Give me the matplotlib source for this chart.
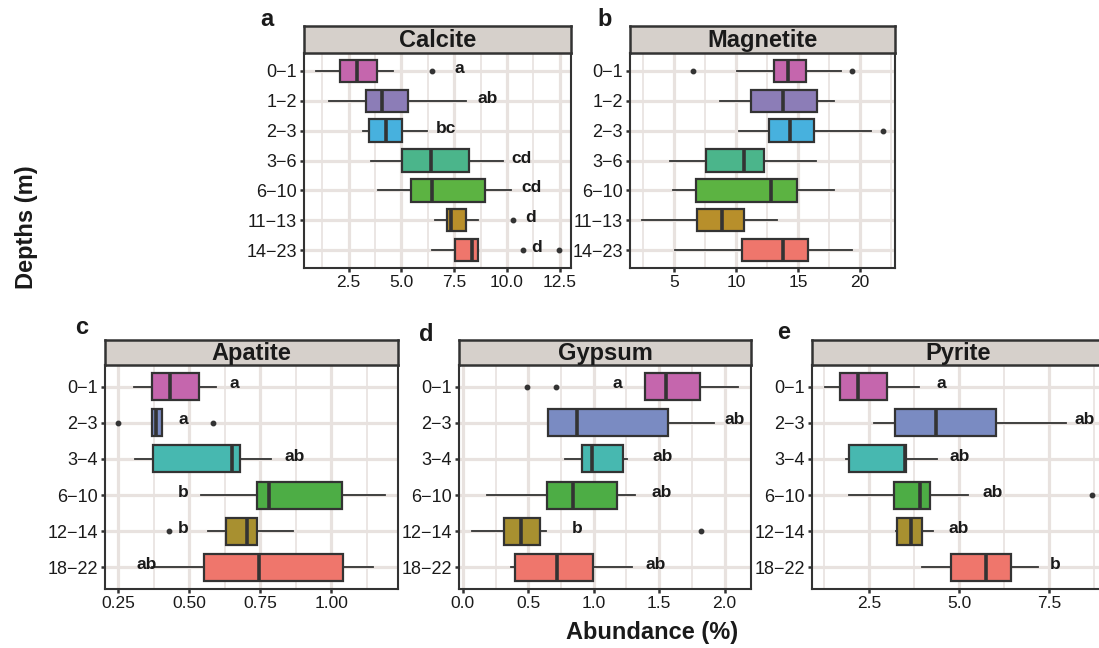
import matplotlib
matplotlib.use('Agg')
import matplotlib.pyplot as plt
from matplotlib.ticker import MultipleLocator, FormatStrFormatter

plt.rcParams['font.family'] = ['Liberation Sans', 'DejaVu Sans']

# ---- a: Calcite ----
calcite_depths = ['0−1', '1−2', '2−3', '3−6', '6−10', '11−13', '14−23']
calcite_lo = [0.96, 1.58, 3.17, 3.58, 3.90, 6.60, 6.44]
calcite_q1 = [2.10, 3.33, 3.45, 5.01, 5.44, 7.15, 7.55]
calcite_med = [2.90, 4.09, 4.25, 6.39, 6.47, 7.37, 8.33]
calcite_q3 = [3.85, 5.31, 5.01, 8.21, 8.98, 8.06, 8.61]
calcite_hi = [4.61, 8.06, 6.23, 9.80, 10.20, 8.61, 8.61]
calcite_out = [[6.44], [], [], [], [], [10.31], [10.75, 12.46]]
calcite_letters = ['a', 'ab', 'bc', 'cd', 'cd', 'd', 'd']
calcite_letter_x = [7.74, 9.07, 7.10, 10.67, 11.15, 11.12, 11.39]

# ---- b: Magnetite ----
magnetite_depths = calcite_depths
magnetite_lo = [10.06, 8.68, 10.19, 4.68, 4.87, 2.41, 5.05]
magnetite_q1 = [13.05, 11.18, 12.67, 7.53, 6.73, 6.87, 10.46]
magnetite_med = [14.19, 13.79, 14.32, 10.65, 12.78, 8.86, 13.79]
magnetite_q3 = [15.66, 16.51, 16.27, 12.27, 14.91, 10.67, 15.82]
magnetite_hi = [18.45, 17.87, 20.85, 16.40, 17.87, 13.31, 19.34]
magnetite_out = [[6.52, 19.38], [], [21.84], [], [], [], []]

# ---- c: Apatite ----
apatite_depths = ['0−1', '2−3', '3−4', '6−10', '12−14', '18−22']
apatite_lo = [0.305, 0.368, 0.309, 0.541, 0.567, 0.367]
apatite_q1 = [0.368, 0.368, 0.372, 0.737, 0.629, 0.553]
apatite_med = [0.432, 0.383, 0.650, 0.780, 0.702, 0.745]
apatite_q3 = [0.533, 0.403, 0.679, 1.039, 0.737, 1.041]
apatite_hi = [0.594, 0.403, 0.786, 1.188, 0.865, 1.146]
apatite_out = [[], [0.25, 0.582], [], [], [0.427], []]
apatite_letters = ['a', 'a', 'ab', 'b', 'b', 'ab']
apatite_letter_x = [0.658, 0.48, 0.87, 0.48, 0.48, 0.35]

# ---- d: Gypsum ----
gypsum_depths = apatite_depths
gypsum_lo = [1.39, 0.651, 0.777, 0.184, 0.072, 0.371]
gypsum_q1 = [1.39, 0.651, 0.912, 0.644, 0.312, 0.402]
gypsum_med = [1.55, 0.874, 0.989, 0.838, 0.447, 0.720]
gypsum_q3 = [1.81, 1.566, 1.226, 1.175, 0.588, 0.994]
gypsum_hi = [2.10, 1.921, 1.257, 1.316, 0.639, 1.295]
gypsum_out = [[0.49, 0.708], [], [], [], [1.822], []]
gypsum_letters = ['a', 'ab', 'ab', 'ab', 'b', 'ab']
gypsum_letter_x = [1.18, 2.08, 1.525, 1.52, 0.874, 1.474]

# ---- e: Pyrite ----
pyrite_depths = apatite_depths
pyrite_lo = [1.29, 2.64, 1.85, 1.96, 3.24, 3.96]
pyrite_q1 = [1.69, 3.22, 1.94, 3.20, 3.29, 4.78]
pyrite_med = [2.20, 4.36, 3.50, 3.91, 3.68, 5.75]
pyrite_q3 = [3.01, 6.03, 3.54, 4.19, 3.96, 6.45]
pyrite_hi = [3.88, 7.98, 4.39, 5.24, 4.27, 7.19]
pyrite_out = [[], [], [], [8.68], [], []]
pyrite_letters = ['a', 'ab', 'ab', 'ab', 'ab', 'b']
pyrite_letter_x = [4.50, 8.49, 5.01, 5.94, 4.98, 7.66]

top_colors = ['#C566AD', '#8C7DB7', '#47B1DE', '#4BB58B', '#5CB342', '#B88F2B', '#EF766C']
bottom_colors = ['#C566AD', '#7A8BC2', '#47B8B0', '#4DAD45', '#A89030', '#EF766C']

W, H = 1099, 648
dark = '#333333'
grid_col = '#E8E2DF'


def px_rect(x0, y0, x1, y1):
    # pixel box (top-left origin) -> figure fraction rect
    return [x0 / W, 1 - y1 / H, (x1 - x0) / W, (y1 - y0) / H]


def draw_panel(fig, box, strip, title, depths, lo, q1, med, q3, hi, outs, colors,
               major, fmt, letters=None, letter_x=None):
    ax = fig.add_axes(px_rect(*box))
    n = len(depths)
    pos = list(range(n, 0, -1))
    stats = []
    for i in range(n):
        stats.append(dict(whislo=lo[i], q1=q1[i], med=med[i], q3=q3[i],
                          whishi=hi[i], fliers=outs[i]))
    bp = ax.bxp(stats, positions=pos, widths=0.75, orientation='horizontal',
                patch_artist=True, showcaps=False,
                boxprops=dict(edgecolor=dark, linewidth=1.6),
                medianprops=dict(color=dark, linewidth=2.6, solid_capstyle='butt'),
                whiskerprops=dict(color=dark, linewidth=1.3),
                flierprops=dict(marker='o', markersize=3.2, markerfacecolor=dark,
                                markeredgecolor=dark))
    for patch, c in zip(bp['boxes'], colors):
        patch.set_facecolor(c)
    ax.margins(x=0.05)
    ax.set_ylim(0.4, n + 0.6)
    ax.set_yticks(pos)
    ax.set_yticklabels(depths)
    ax.xaxis.set_major_locator(MultipleLocator(major))
    ax.xaxis.set_minor_locator(MultipleLocator(major / 2))
    ax.xaxis.set_major_formatter(FormatStrFormatter(fmt))
    ax.set_axisbelow(True)
    ax.grid(True, which='major', color=grid_col, linewidth=2.3)
    ax.grid(True, which='minor', axis='x', color=grid_col, linewidth=1.2)
    ax.tick_params(axis='both', which='major', length=3, width=1.8, color=dark,
                   labelcolor='#1a1a1a', pad=2)
    ax.tick_params(axis='y', labelsize=13)
    ax.tick_params(axis='x', labelsize=12.5)
    ax.tick_params(which='minor', length=0)
    for s in ax.spines.values():
        s.set_color(dark)
        s.set_linewidth(1.5)
    if letters is not None:
        for i in range(n):
            ax.text(letter_x[i], pos[i] + 0.08, letters[i], fontsize=12.5,
                    fontweight='bold', ha='center', va='center', color='#1a1a1a')

    sx = fig.add_axes(px_rect(*strip))
    sx.set_facecolor('#D6D0CB')
    sx.set_xticks([])
    sx.set_yticks([])
    for s in sx.spines.values():
        s.set_color(dark)
        s.set_linewidth(1.8)
    sx.text(0.5, 0.45, title, transform=sx.transAxes, ha='center', va='center',
            fontsize=17, fontweight='bold', color='#1a1a1a')
    return ax


fig = plt.figure(figsize=(W / 100, H / 100), dpi=100)

draw_panel(fig, (304, 53, 571, 268), (304, 26, 571, 53), 'Calcite', calcite_depths,
           calcite_lo, calcite_q1, calcite_med, calcite_q3, calcite_hi, calcite_out,
           top_colors, 2.5, '%.1f', calcite_letters, calcite_letter_x)
draw_panel(fig, (630, 53, 895, 268), (630, 26, 895, 53), 'Magnetite', magnetite_depths,
           magnetite_lo, magnetite_q1, magnetite_med, magnetite_q3, magnetite_hi,
           magnetite_out, top_colors, 5, '%d')
draw_panel(fig, (105, 365, 398, 589), (105, 340, 398, 365), 'Apatite', apatite_depths,
           apatite_lo, apatite_q1, apatite_med, apatite_q3, apatite_hi, apatite_out,
           bottom_colors, 0.25, '%.2f', apatite_letters, apatite_letter_x)
draw_panel(fig, (459, 365, 751, 589), (459, 340, 751, 365), 'Gypsum', gypsum_depths,
           gypsum_lo, gypsum_q1, gypsum_med, gypsum_q3, gypsum_hi, gypsum_out,
           bottom_colors, 0.5, '%.1f', gypsum_letters, gypsum_letter_x)
draw_panel(fig, (812, 365, 1105, 589), (812, 340, 1105, 365), 'Pyrite', pyrite_depths,
           pyrite_lo, pyrite_q1, pyrite_med, pyrite_q3, pyrite_hi, pyrite_out,
           bottom_colors, 2.5, '%.1f', pyrite_letters, pyrite_letter_x)

# panel letters
for lab, x, y in [('a', 260, 26), ('b', 597, 26), ('c', 75, 334), ('d', 419, 341), ('e', 777, 339)]:
    fig.text(x / W, 1 - y / H, lab, fontsize=17, fontweight='bold', ha='left',
             va='baseline', color='#1a1a1a')

fig.text(27 / W, 1 - 227 / H, 'Depths (m)', rotation=90, fontsize=17, fontweight='bold',
         ha='center', va='center', color='#1a1a1a')
fig.text(652 / W, 1 - 632 / H, 'Abundance (%)', fontsize=17, fontweight='bold',
         ha='center', va='center', color='#1a1a1a')

fig.savefig('out.png', dpi=100)
